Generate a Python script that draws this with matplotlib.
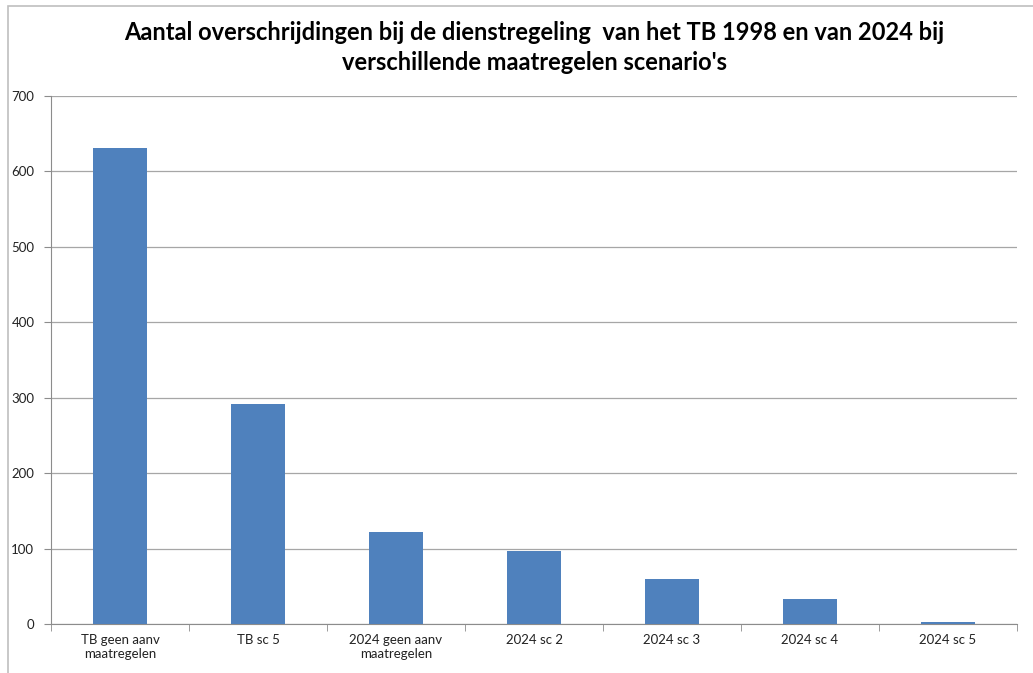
import matplotlib
matplotlib.use("Agg")
import matplotlib.pyplot as plt
import numpy as np
from matplotlib.patches import Rectangle

plt.rcParams['font.family'] = ['Lato', 'DejaVu Sans']

categories = ["TB geen aanv\nmaatregelen", "TB sc 5", "2024 geen aanv\nmaatregelen",
              "2024 sc 2", "2024 sc 3", "2024 sc 4", "2024 sc 5"]
values = [631, 292, 122, 97, 60, 33, 2]
yticks = [0, 100, 200, 300, 400, 500, 600, 700]
title_lines = ["Aantal overschrijdingen bij de dienstregeling  van het TB 1998 en van 2024 bij",
               "verschillende maatregelen scenario's"]

fig = plt.figure(figsize=(10.33, 6.73), dpi=100)
# outer chart border
fig.patches.append(Rectangle((8 / 1033, -0.01), 1.1, 1 - 6 / 673 + 0.01,
                             transform=fig.transFigure, fill=False,
                             edgecolor="#BFBFBF", linewidth=1.2))

ax = fig.add_axes([51 / 1033, 1 - 624 / 673, (1017 - 51) / 1033, (624 - 96) / 673])
x = np.arange(len(categories))
ax.bar(x, values, width=0.39, color="#4F81BD", zorder=3)

ax.set_xlim(-0.5, len(categories) - 0.5)
ax.set_ylim(0, 700)
ax.set_yticks(yticks)
ax.yaxis.grid(True, color="#A6A6A6", linewidth=0.9, zorder=0)

ax.set_xticks(x)
ax.set_xticklabels(categories, fontsize=9.5, color="#222222")
ax.tick_params(axis="x", length=0, pad=7)
ax.set_xticks(np.arange(-0.5, len(categories)), minor=True)
ax.tick_params(axis="x", which="minor", length=5, color="#8C8C8C")
ax.tick_params(axis="y", length=5, color="#8C8C8C", labelsize=9.5, labelcolor="#222222", pad=7)

for s in ["top", "right"]:
    ax.spines[s].set_visible(False)
for s in ["left", "bottom"]:
    ax.spines[s].set_color("#8C8C8C")

cx = (51 + 1017) / 2 / 1033
for i, line in enumerate(title_lines):
    fig.text(cx, 1 - (33 + 29 * i) / 673, line, ha="center", va="center",
             fontsize=17, fontweight="bold")

fig.savefig("out.png", dpi=100)
